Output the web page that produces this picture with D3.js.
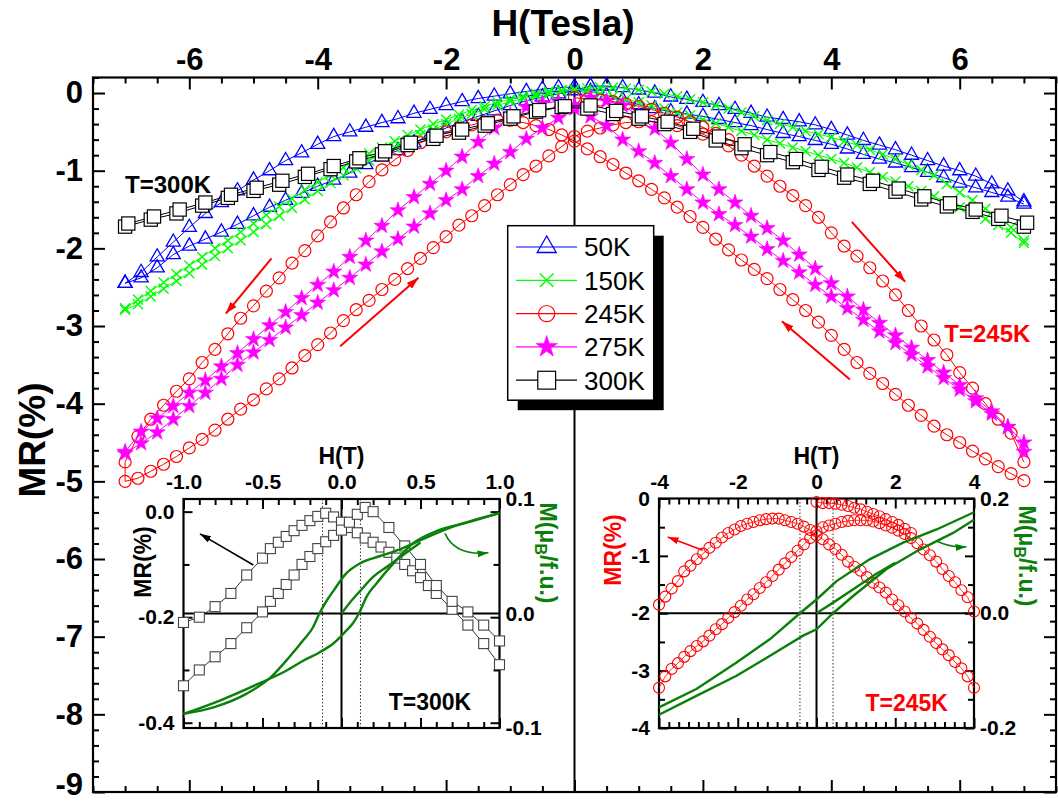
<!DOCTYPE html>
<html><head><meta charset="utf-8">
<script src="https://cdn.jsdelivr.net/npm/d3@7"></script>
<style>body{margin:0;background:#fff} svg text{font-family:"Liberation Sans",Arial,sans-serif}</style>
</head><body><svg id="c" width="1058" height="803"></svg>
<script>
// ---------- DATA (main panel, MR in % vs H in Tesla) ----------
const H25 = [-7,-6.75,-6.5,-6.25,-6,-5.75,-5.5,-5.25,-5,-4.75,-4.5,-4.25,-4,-3.75,-3.5,-3.25,-3,-2.75,-2.5,-2.25,-2,-1.75,-1.5,-1.25,-1,-0.75,-0.5,-0.25,0,0.25,0.5,0.75,1,1.25,1.5,1.75,2,2.25,2.5,2.75,3,3.25,3.5,3.75,4,4.25,4.5,4.75,5,5.25,5.5,5.75,6,6.25,6.5,6.75,7];
const H20 = [-7,-6.8,-6.6,-6.4,-6.2,-6,-5.8,-5.6,-5.4,-5.2,-5,-4.8,-4.6,-4.4,-4.2,-4,-3.8,-3.6,-3.4,-3.2,-3,-2.8,-2.6,-2.4,-2.2,-2,-1.8,-1.6,-1.4,-1.2,-1,-0.8,-0.6,-0.4,-0.2,0,0.2,0.4,0.6,0.8,1,1.2,1.4,1.6,1.8,2,2.2,2.4,2.6,2.8,3,3.2,3.4,3.6,3.8,4,4.2,4.4,4.6,4.8,5,5.2,5.4,5.6,5.8,6,6.2,6.4,6.6,6.8,7];
const H40 = [-7,-6.6,-6.2,-5.8,-5.4,-5,-4.6,-4.2,-3.8,-3.4,-3,-2.6,-2.2,-1.8,-1.4,-1,-0.6,-0.2,0.2,0.6,1,1.4,1.8,2.2,2.6,3,3.4,3.8,4.2,4.6,5,5.4,5.8,6.2,6.6,7];
const H40b = [-6.95,-6.55,-6.15,-5.75,-5.35,-4.95,-4.55,-4.15,-3.75,-3.35,-2.95,-2.55,-2.15,-1.75,-1.35,-0.95,-0.55,-0.15,0.25,0.65,1.05,1.45,1.85,2.25,2.65,3.05,3.45,3.85,4.25,4.65,5.05,5.45,5.85,6.25,6.65,7.05];
const Hvirgin245 = [0,0.2,0.4,0.6,0.8,1,1.2,1.4,1.6,1.8,2,2.2,2.4];

// 50K (on H25) - field sweeping down / up
const MR50_down = [-2.45,-2.31,-2.11,-1.92,-1.73,-1.55,-1.41,-1.26,-1.12,-1.0,-0.87,-0.77,-0.66,-0.56,-0.5,-0.44,-0.38,-0.33,-0.26,-0.21,-0.16,-0.11,-0.07,-0.04,-0.01,0.02,0.05,0.07,0.08,
  0.02,-0.03,-0.09,-0.15,-0.2,-0.24,-0.27,-0.3,-0.34,-0.38,-0.42,-0.47,-0.52,-0.56,-0.61,-0.66,-0.72,-0.79,-0.85,-0.9,-0.96,-1.02,-1.09,-1.16,-1.22,-1.28,-1.34,-1.43];
const MR50_up = [-2.45,-2.38,-2.25,-2.08,-1.97,-1.88,-1.79,-1.69,-1.58,-1.47,-1.38,-1.29,-1.2,-1.12,-1.03,-0.92,-0.82,-0.74,-0.64,-0.54,-0.45,-0.37,-0.3,-0.23,-0.16,-0.1,-0.05,-0.01,0.03,
  0.09,0.09,0.07,0.04,0.0,-0.05,-0.08,-0.12,-0.16,-0.21,-0.26,-0.31,-0.34,-0.37,-0.41,-0.47,-0.54,-0.61,-0.67,-0.73,-0.8,-0.87,-0.94,-1.0,-1.07,-1.17,-1.26,-1.4];
// 150K (on H20)
const MR150_down = [-2.77,-2.66,-2.55,-2.44,-2.33,-2.22,-2.11,-2.0,-1.9,-1.79,-1.68,-1.57,-1.46,-1.36,-1.25,-1.15,-1.05,-0.96,-0.87,-0.78,-0.7,-0.62,-0.54,-0.47,-0.4,-0.34,-0.28,-0.22,-0.17,-0.12,-0.08,-0.04,-0.01,0.02,0.04,0.05,
  0.02,-0.01,-0.04,-0.08,-0.12,-0.16,-0.2,-0.25,-0.29,-0.34,-0.39,-0.44,-0.49,-0.54,-0.6,-0.65,-0.7,-0.75,-0.8,-0.85,-0.9,-0.96,-1.02,-1.08,-1.14,-1.2,-1.26,-1.33,-1.4,-1.47,-1.54,-1.62,-1.7,-1.8,-1.93];
const MR150_up = [-2.79,-2.72,-2.62,-2.52,-2.42,-2.32,-2.21,-2.1,-2.0,-1.9,-1.79,-1.69,-1.58,-1.48,-1.37,-1.26,-1.16,-1.06,-0.97,-0.87,-0.78,-0.7,-0.62,-0.54,-0.47,-0.4,-0.33,-0.27,-0.21,-0.16,-0.11,-0.07,-0.04,-0.01,0.02,0.04,
  0.06,0.07,0.07,0.06,0.04,0.02,-0.01,-0.04,-0.08,-0.12,-0.16,-0.2,-0.25,-0.3,-0.35,-0.4,-0.44,-0.49,-0.53,-0.57,-0.62,-0.67,-0.73,-0.79,-0.85,-0.92,-0.99,-1.06,-1.17,-1.28,-1.38,-1.49,-1.6,-1.73,-1.9];
// 245K (on H20)
const MR245_down = [-4.75,-4.42,-4.2,-4.02,-3.84,-3.68,-3.47,-3.3,-3.1,-2.9,-2.74,-2.55,-2.38,-2.19,-2.03,-1.84,-1.66,-1.48,-1.31,-1.14,-0.99,-0.86,-0.74,-0.64,-0.56,-0.5,-0.45,-0.41,-0.37,-0.35,-0.35,-0.38,-0.42,-0.47,-0.54,-0.62,
  -0.72,-0.82,-0.92,-1.03,-1.13,-1.24,-1.35,-1.47,-1.59,-1.73,-1.88,-2.02,-2.15,-2.27,-2.39,-2.53,-2.66,-2.8,-2.95,-3.12,-3.3,-3.47,-3.61,-3.74,-3.88,-4.02,-4.15,-4.29,-4.4,-4.5,-4.61,-4.71,-4.81,-4.9,-4.99];
const MR245_up = [-5.0,-4.96,-4.87,-4.78,-4.68,-4.57,-4.46,-4.34,-4.2,-4.07,-3.95,-3.81,-3.68,-3.54,-3.38,-3.24,-3.09,-2.93,-2.79,-2.67,-2.53,-2.4,-2.26,-2.13,-1.99,-1.85,-1.7,-1.58,-1.45,-1.31,-1.18,-1.05,-0.94,-0.81,-0.69,-0.56,
  -0.49,-0.45,-0.41,-0.38,-0.37,-0.37,-0.38,-0.42,-0.47,-0.53,-0.6,-0.68,-0.8,-0.94,-1.07,-1.2,-1.32,-1.45,-1.6,-1.8,-1.97,-2.1,-2.25,-2.42,-2.6,-2.8,-3.0,-3.18,-3.37,-3.6,-3.8,-4.0,-4.2,-4.38,-4.75];
const MR245_virgin = [-0.06,-0.08,-0.09,-0.11,-0.14,-0.17,-0.21,-0.26,-0.31,-0.37,-0.44,-0.52,-0.6];
// 275K (on H25)
const MR275_down = [-4.62,-4.36,-4.19,-4.03,-3.86,-3.7,-3.52,-3.35,-3.17,-2.99,-2.82,-2.64,-2.47,-2.3,-2.11,-1.9,-1.71,-1.51,-1.34,-1.17,-1.0,-0.82,-0.63,-0.45,-0.28,-0.18,-0.13,-0.11,-0.16,
  -0.3,-0.42,-0.6,-0.75,-0.9,-1.07,-1.24,-1.41,-1.56,-1.7,-1.85,-2.01,-2.16,-2.31,-2.47,-2.62,-2.77,-2.92,-3.07,-3.22,-3.37,-3.52,-3.67,-3.82,-3.97,-4.13,-4.3,-4.62];
const MR275_up = [-4.64,-4.51,-4.37,-4.2,-4.03,-3.86,-3.68,-3.5,-3.34,-3.18,-3.02,-2.86,-2.7,-2.54,-2.38,-2.21,-2.04,-1.88,-1.72,-1.55,-1.38,-1.24,-1.07,-0.91,-0.76,-0.59,-0.45,-0.32,-0.2,
  -0.06,-0.1,-0.16,-0.29,-0.46,-0.64,-0.85,-1.05,-1.24,-1.41,-1.58,-1.74,-1.9,-2.08,-2.26,-2.45,-2.62,-2.79,-2.96,-3.12,-3.28,-3.44,-3.6,-3.76,-3.93,-4.1,-4.3,-4.5];
// 300K (down on H40, up on H40b)
const MR300_down = [-1.72,-1.63,-1.55,-1.45,-1.35,-1.26,-1.18,-1.08,-0.98,-0.88,-0.79,-0.67,-0.59,-0.51,-0.42,-0.33,-0.24,-0.18,-0.2,-0.27,-0.33,-0.4,-0.5,-0.61,-0.71,-0.8,-0.89,-0.99,-1.09,-1.17,-1.27,-1.37,-1.46,-1.53,-1.62,-1.72];
const MR300_up = [-1.68,-1.59,-1.5,-1.41,-1.31,-1.22,-1.13,-1.04,-0.94,-0.84,-0.75,-0.64,-0.55,-0.47,-0.39,-0.3,-0.22,-0.17,-0.16,-0.23,-0.3,-0.37,-0.46,-0.56,-0.66,-0.76,-0.85,-0.95,-1.05,-1.13,-1.23,-1.33,-1.42,-1.5,-1.58,-1.67];

const legendLabels = ["50K","150K","245K","275K","300K"];
const xTickLabels = [-6,-4,-2,0,2,4,6];
const yTickLabels = [0,-1,-2,-3,-4,-5,-6,-7,-8,-9];

// ---------- DATA (inset 300K) ----------
const in300_H_A = [-1.0,-0.9,-0.8,-0.7,-0.6,-0.5,-0.45,-0.4,-0.35,-0.3,-0.25,-0.2,-0.15,-0.1,-0.05,0,0.05,0.1,0.15,0.2,0.25,0.3,0.35,0.4,0.45,0.5,0.55,0.6,0.7,0.8,0.9,1.0];
const in300_MR_A = [-0.21,-0.2,-0.18,-0.155,-0.12,-0.088,-0.07,-0.058,-0.047,-0.036,-0.026,-0.017,-0.009,-0.003,-0.01,-0.02,-0.03,-0.04,-0.05,-0.058,-0.067,-0.077,-0.088,-0.1,-0.112,-0.125,-0.14,-0.155,-0.185,-0.215,-0.25,-0.29];
const in300_H_B = [-1.0,-0.9,-0.8,-0.7,-0.6,-0.5,-0.45,-0.4,-0.35,-0.3,-0.25,-0.2,-0.15,-0.1,-0.05,0,0.05,0.1,0.15,0.2,0.3,0.4,0.5,0.6,0.7,0.8,0.9,1.0];
const in300_MR_B = [-0.33,-0.3,-0.275,-0.25,-0.22,-0.19,-0.17,-0.155,-0.138,-0.12,-0.1,-0.085,-0.07,-0.057,-0.045,-0.035,-0.02,-0.005,0.008,0.0,-0.03,-0.065,-0.1,-0.14,-0.17,-0.19,-0.215,-0.245];
const m300_H_down = [-1.0,-0.81,-0.6,-0.45,-0.33,-0.24,-0.18,-0.14,-0.09,-0.05,0.03,0.12,0.24,0.37,0.5,0.71,1.0];
const m300_M_down = [-0.0877,-0.082,-0.07,-0.056,-0.038,-0.023,-0.012,0,0.012,0.02,0.035,0.044,0.05,0.056,0.064,0.076,0.0877];
const m300_H_up = [-1.0,-0.77,-0.52,-0.35,-0.24,-0.14,-0.05,0.03,0.07,0.11,0.16,0.22,0.33,0.45,0.62,0.81,1.0];
const m300_M_up = [-0.0877,-0.076,-0.061,-0.05,-0.041,-0.034,-0.026,-0.015,-0.009,0,0.015,0.026,0.044,0.061,0.073,0.08,0.0877];
const m300_H_virgin = [0,0.05,0.12,0.2,0.29,0.39,0.5];
const m300_M_virgin = [0,0.009,0.02,0.032,0.041,0.051,0.062];

// ---------- DATA (inset 245K) ----------
const in245_H = [-4,-3.84,-3.68,-3.52,-3.36,-3.2,-3.04,-2.88,-2.72,-2.56,-2.4,-2.24,-2.08,-1.92,-1.76,-1.6,-1.44,-1.28,-1.12,-0.96,-0.8,-0.64,-0.48,-0.32,-0.16,0,0.16,0.32,0.48,0.64,0.8,0.96,1.12,1.28,1.44,1.6,1.76,1.92,2.08,2.24,2.4,2.56,2.72,2.88,3.04,3.2,3.36,3.52,3.68,3.84,4];
const in245_MR_down = [-1.85,-1.71,-1.57,-1.44,-1.27,-1.17,-1.06,-0.96,-0.86,-0.77,-0.68,-0.6,-0.54,-0.48,-0.44,-0.41,-0.38,-0.36,-0.35,-0.35,-0.38,-0.41,-0.44,-0.49,-0.55,-0.64,-0.71,-0.8,-0.88,-0.98,-1.1,-1.19,-1.26,-1.37,-1.47,-1.55,-1.64,-1.76,-1.86,-1.97,-2.08,-2.18,-2.29,-2.41,-2.52,-2.63,-2.73,-2.85,-2.96,-3.1,-3.3];
const in245_MR_up = [-3.3,-3.1,-2.97,-2.87,-2.76,-2.66,-2.57,-2.49,-2.39,-2.28,-2.19,-2.08,-1.98,-1.87,-1.76,-1.67,-1.56,-1.46,-1.35,-1.24,-1.13,-1.02,-0.91,-0.8,-0.69,-0.57,-0.5,-0.47,-0.44,-0.41,-0.39,-0.38,-0.38,-0.38,-0.4,-0.43,-0.47,-0.51,-0.56,-0.62,-0.69,-0.78,-0.89,-0.99,-1.1,-1.23,-1.35,-1.46,-1.6,-1.72,-1.97];
const in245_H_virgin = [0,0.16,0.32,0.48,0.64,0.8,0.96,1.12,1.28,1.44,1.6,1.76,1.92,2.08,2.24,2.4];
const in245_MR_virgin = [-0.06,-0.08,-0.08,-0.09,-0.11,-0.13,-0.16,-0.19,-0.23,-0.27,-0.31,-0.36,-0.41,-0.46,-0.53,-0.6];
const m245_H_down = [-4,-3.05,-2.03,-1.18,-0.42,0,0.51,1.35,2.2,3.05,4];
const m245_M_down = [-0.164,-0.132,-0.086,-0.045,0,0.024,0.056,0.094,0.123,0.146,0.176];
const m245_H_up = [-4,-3.05,-2.03,-1.18,-0.34,0,0.42,0.93,1.78,2.62,3.47,4];
const m245_M_up = [-0.177,-0.144,-0.109,-0.074,-0.039,-0.028,0,0.03,0.077,0.111,0.14,0.163];
const m245_H_virgin = [0,0.5,1.0,1.5,2.0];
const m245_M_virgin = [0,0.022,0.045,0.068,0.088];

// ---------- CHART ----------
const svg = d3.select("#c");
const FONT = '"Liberation Sans",Arial,sans-serif';
const L = 93, R = 1056, T = 77.5, B = 792;
const X = d3.scaleLinear().domain([-7.5, 7.5]).range([L, R]);
const Y = d3.scaleLinear().domain([-9, 0.2]).range([B, T]);

const defs = svg.append("defs");
function arrowMarker(id, color, len, wid) {
  defs.append("marker").attr("id", id).attr("markerUnits", "userSpaceOnUse")
    .attr("viewBox", `0 0 ${len} ${wid}`).attr("refX", len).attr("refY", wid / 2)
    .attr("markerWidth", len).attr("markerHeight", wid).attr("orient", "auto")
    .append("path").attr("d", `M0,0L${len},${wid / 2}L0,${wid}Z`).attr("fill", color);
}
arrowMarker("arR", "#ff0000", 12, 8);
arrowMarker("arK", "#000", 11, 7);
arrowMarker("arG", "#008000", 11, 7);
arrowMarker("arR2", "#ff0000", 11, 7);

function addAxis(g, orient, scale, pos, vals, size, fmt, pad, fs, color) {
  const gen = orient === "top" ? d3.axisTop(scale) : orient === "bottom" ? d3.axisBottom(scale) :
    orient === "left" ? d3.axisLeft(scale) : d3.axisRight(scale);
  gen.tickValues(vals).tickSizeInner(-size).tickSizeOuter(0).tickPadding(pad || 3)
    .tickFormat(fmt || (() => ""));
  const tr = (orient === "top" || orient === "bottom") ? `translate(0,${pos})` : `translate(${pos},0)`;
  const a = g.append("g").attr("transform", tr).call(gen);
  a.select(".domain").remove();
  a.attr("font-family", FONT);
  a.selectAll("line").attr("stroke", "#000").attr("stroke-width", 2);
  a.selectAll("text").attr("font-size", fs || 10).attr("font-weight", "bold").attr("fill", color || "#000");
  return a;
}
const rng = (a, b, s) => d3.range(a, b + s / 2, s).map(v => +v.toFixed(4));

// main axes
const gA = svg.append("g");
const xMajor = rng(-6, 6, 2), xMinor = rng(-7.5, 7.5, 0.5).filter(v => !xMajor.includes(v));
const yMajor = rng(-9, 0, 1), yMinor = rng(-9, 0.2, 0.2).filter(v => !yMajor.some(m => Math.abs(m - v) < 1e-6));
addAxis(gA, "top", X, T, xTickLabels, 12, d => String(d), 8, 31);
addAxis(gA, "top", X, T, xMinor, 6);
addAxis(gA, "bottom", X, B, xMajor, 12);
addAxis(gA, "bottom", X, B, xMinor, 6);
addAxis(gA, "left", Y, L, yTickLabels, 12, d => String(d), 10, 31);
addAxis(gA, "left", Y, L, yMinor, 6);
addAxis(gA, "right", Y, R, yMajor, 12);
addAxis(gA, "right", Y, R, yMinor, 6);
// keep the lowest label inside the picture
gA.selectAll("text").filter(function () { return this.textContent === "-9"; }).attr("dy", "0.08em");
svg.append("rect").attr("x", L).attr("y", T).attr("width", R - L).attr("height", B - T)
  .attr("fill", "none").attr("stroke", "#000").attr("stroke-width", 2.2);
svg.append("line").attr("x1", X(0)).attr("x2", X(0)).attr("y1", T).attr("y2", B)
  .attr("stroke", "#000").attr("stroke-width", 2);

svg.append("text").attr("x", 563).attr("y", 36).attr("text-anchor", "middle")
  .attr("font-size", 37).attr("font-weight", "bold").attr("font-family", FONT).text("H(Tesla)");
svg.append("text").attr("transform", "translate(45,440) rotate(-90)").attr("text-anchor", "middle")
  .attr("font-size", 37).attr("font-weight", "bold").attr("font-family", FONT).text("MR(%)");

// symbols
function drawMarker(g, kind, x, y, color, big) {
  const k = big ? 1.35 : 1;
  if (kind === "tri") {
    g.append("path").attr("transform", `translate(${x},${y})`)
      .attr("d", d3.symbol(d3.symbolTriangle, 86 * k * k)()).attr("fill", "none").attr("stroke", color).attr("stroke-width", 1.3);
  } else if (kind === "cross") {
    const s = 5 * k;
    g.append("path").attr("transform", `translate(${x},${y})`)
      .attr("d", `M${-s},${-s}L${s},${s}M${-s},${s}L${s},${-s}`).attr("stroke", color).attr("stroke-width", 1.4).attr("fill", "none");
  } else if (kind === "circ") {
    g.append("circle").attr("cx", x).attr("cy", y).attr("r", 6 * k).attr("fill", "none").attr("stroke", color).attr("stroke-width", 1.2);
  } else if (kind === "star") {
    g.append("path").attr("transform", `translate(${x},${y})`)
      .attr("d", d3.symbol(d3.symbolStar, 80 * k * k)()).attr("fill", color).attr("stroke", color).attr("stroke-width", 0.6);
  } else if (kind === "sq") {
    const s = 6.6 * k;
    g.append("rect").attr("x", x - s).attr("y", y - s).attr("width", 2 * s).attr("height", 2 * s)
      .attr("fill", "#fff").attr("stroke", color).attr("stroke-width", 1.2);
  }
}
const line = d3.line().x(d => X(d[0])).y(d => Y(d[1]));
function series(Hd, MRd, Hu, MRu, color, kind) {
  const g = svg.append("g");
  const down = Hd.map((h, i) => [h, MRd[i]]).reverse();
  const up = Hu.map((h, i) => [h, MRu[i]]);
  const all = down.concat(up);
  g.append("path").attr("d", line(all)).attr("fill", "none").attr("stroke", color).attr("stroke-width", 1);
  all.forEach(p => drawMarker(g, kind, X(p[0]), Y(p[1]), color));
  return g;
}
series(H25, MR50_down, H25, MR50_up, "#0000ff", "tri");
series(H20, MR150_down, H20, MR150_up, "#00ff00", "cross");
{
  const g = svg.append("g");
  const v = Hvirgin245.map((h, i) => [h, MR245_virgin[i]]);
  g.append("path").attr("d", line(v)).attr("fill", "none").attr("stroke", "#ff0000").attr("stroke-width", 1);
  v.forEach(p => drawMarker(g, "circ", X(p[0]), Y(p[1]), "#ff0000"));
}
series(H20, MR245_down, H20, MR245_up, "#ff0000", "circ");
series(H25, MR275_down, H25, MR275_up, "#ff00ff", "star");
series(H40, MR300_down, H40b, MR300_up, "#000000", "sq");

// annotations main
const mainArrows = [[-4.72, -2.13, -5.43, -2.84], [-3.65, -3.26, -2.43, -2.38], [4.32, -1.66, 5.15, -2.43], [4.29, -3.69, 3.23, -2.94]];
mainArrows.forEach(a => svg.append("line").attr("x1", X(a[0])).attr("y1", Y(a[1])).attr("x2", X(a[2])).attr("y2", Y(a[3]))
  .attr("stroke", "#ff0000").attr("stroke-width", 2).attr("marker-end", "url(#arR)"));
svg.append("text").attr("x", X(-6.33)).attr("y", Y(-1.17)).attr("dy", "0.36em").attr("text-anchor", "middle")
  .attr("font-size", 24).attr("font-weight", "bold").attr("font-family", FONT).text("T=300K");
svg.append("text").attr("x", X(6.43)).attr("y", Y(-3.09)).attr("dy", "0.36em").attr("text-anchor", "middle")
  .attr("font-size", 24).attr("font-weight", "bold").attr("fill", "#ff0000").attr("font-family", FONT).text("T=245K");

// legend
{
  const lx = 507.7, ly = 225.7, lw = 146, lh = 174.5;
  const g = svg.append("g");
  g.append("rect").attr("x", lx + 10).attr("y", ly + 10).attr("width", lw).attr("height", lh).attr("fill", "#000");
  g.append("rect").attr("x", lx).attr("y", ly).attr("width", lw).attr("height", lh).attr("fill", "#fff").attr("stroke", "#000").attr("stroke-width", 1.5);
  const cols = ["#0000ff", "#00ff00", "#ff0000", "#ff00ff", "#000000"];
  const kinds = ["tri", "cross", "circ", "star", "sq"];
  legendLabels.forEach((lab, i) => {
    const y = 247 + i * 33.3;
    g.append("line").attr("x1", 516).attr("x2", 577).attr("y1", y).attr("y2", y).attr("stroke", cols[i]).attr("stroke-width", 1.2);
    drawMarker(g, kinds[i], 546.7, y, cols[i], true);
    g.append("text").attr("x", 584).attr("y", y).attr("dy", "0.36em").attr("font-size", 26).attr("font-family", FONT).text(lab);
  });
}

// ---------- INSETS ----------
function inset(cfg) {
  const { x0, x1, y0, y1, Hs, MRs, Ms } = cfg;
  const g = svg.append("g");
  g.append("rect").attr("x", x0).attr("y", y0).attr("width", x1 - x0).attr("height", y1 - y0).attr("fill", "#fff");
  cfg.dots.forEach(h => g.append("line").attr("x1", Hs(h)).attr("x2", Hs(h)).attr("y1", y0).attr("y2", y1)
    .attr("stroke", "#000").attr("stroke-width", 0.8).attr("stroke-dasharray", "1.5,2"));
  g.append("line").attr("x1", Hs(0)).attr("x2", Hs(0)).attr("y1", y0).attr("y2", y1).attr("stroke", "#000").attr("stroke-width", 2);
  g.append("line").attr("x1", x0).attr("x2", x1).attr("y1", Ms(0)).attr("y2", Ms(0)).attr("stroke", "#000").attr("stroke-width", 2.2);
  addAxis(g, "top", Hs, y0, cfg.hLab, 10, cfg.hFmt, 10, 21);
  addAxis(g, "top", Hs, y0, cfg.hMin, 6);
  addAxis(g, "bottom", Hs, y1, cfg.hLab, 10);
  addAxis(g, "bottom", Hs, y1, cfg.hMin, 6);
  addAxis(g, "left", MRs, x0, cfg.mrLab, 9, cfg.mrFmt, 9, 21);
  addAxis(g, "left", MRs, x0, cfg.mrMin, 6);
  addAxis(g, "right", MRs, x1, cfg.mrLab, 9);
  addAxis(g, "right", MRs, x1, cfg.mrMin, 6);
  addAxis(g, "right", Ms, x1, cfg.mLab, 0, cfg.mFmt, 6, 21);
  g.append("rect").attr("x", x0).attr("y", y0).attr("width", x1 - x0).attr("height", y1 - y0)
    .attr("fill", "none").attr("stroke", "#000").attr("stroke-width", 2.2);
  return g;
}

// inset 300K
const X1 = d3.scaleLinear().domain([-1, 1]).range([183.5, 499.5]);
const Y1 = d3.scaleLinear().domain([-0.41, 0.024]).range([728, 499]);
const M1 = d3.scaleLinear().domain([-0.1, 0.1]).range([728, 499]);
const g1 = inset({
  x0: 183.5, x1: 499.5, y0: 499, y1: 728, Hs: X1, MRs: Y1, Ms: M1, dots: [-0.12, 0.12],
  hLab: [-1, -0.5, 0, 0.5, 1], hMin: rng(-1, 1, 0.1).filter(v => Math.abs(v * 2 - Math.round(v * 2)) > 1e-6), hFmt: d => d.toFixed(1),
  mrLab: [0, -0.2, -0.4], mrMin: [-0.1, -0.3], mrFmt: d => d.toFixed(1),
  mLab: [0.1, 0, -0.1], mFmt: d => d.toFixed(1)
});
{
  const ln = d3.line().x(d => X1(d[0])).y(d => Y1(d[1]));
  const A = in300_H_A.map((h, i) => [h, in300_MR_A[i]]);
  const Bv = in300_H_B.map((h, i) => [h, in300_MR_B[i]]);
  [A, Bv].forEach(arr => {
    g1.append("path").attr("d", ln(arr)).attr("fill", "none").attr("stroke", "#000").attr("stroke-width", 0.8);
  });
  [A, Bv].forEach(arr => arr.forEach(p => {
    g1.append("rect").attr("x", X1(p[0]) - 5).attr("y", Y1(p[1]) - 5).attr("width", 10).attr("height", 10)
      .attr("fill", "#fff").attr("stroke", "#444").attr("stroke-width", 1.1);
  }));
  const lm = d3.line().x(d => X1(d[0])).y(d => M1(d[1])).curve(d3.curveMonotoneX);
  [[m300_H_down, m300_M_down], [m300_H_up, m300_M_up], [m300_H_virgin, m300_M_virgin]].forEach(([h, m]) => {
    g1.append("path").attr("d", lm(h.map((v, i) => [v, m[i]]))).attr("fill", "none").attr("stroke", "#0a800a").attr("stroke-width", 2.4);
  });
  g1.append("line").attr("x1", X1(-0.558)).attr("y1", Y1(-0.101)).attr("x2", X1(-0.896)).attr("y2", Y1(-0.042))
    .attr("stroke", "#000").attr("stroke-width", 1.6).attr("marker-end", "url(#arK)");
  g1.append("path").attr("d", `M${X1(0.655)},${M1(0.07)} Q${X1(0.72)},${M1(0.05)} ${X1(0.93)},${M1(0.053)}`)
    .attr("fill", "none").attr("stroke", "#0a800a").attr("stroke-width", 1.6).attr("marker-end", "url(#arG)");
  g1.append("text").attr("x", X1(0.56)).attr("y", Y1(-0.361)).attr("dy", "0.36em").attr("text-anchor", "middle")
    .attr("font-size", 23).attr("font-weight", "bold").attr("font-family", FONT).text("T=300K");
  g1.append("text").attr("x", X1(0)).attr("y", 464).attr("text-anchor", "middle")
    .attr("font-size", 23).attr("font-weight", "bold").attr("font-family", FONT).text("H(T)");
  g1.append("text").attr("transform", "translate(151,562) rotate(-90)").attr("text-anchor", "middle")
    .attr("font-size", 23).attr("font-weight", "bold").attr("font-family", FONT).text("MR(%)");
  const t = g1.append("text").attr("transform", "translate(540,553) rotate(90)").attr("text-anchor", "middle")
    .attr("font-size", 23).attr("font-weight", "bold").attr("font-family", FONT).attr("fill", "#0a800a");
  t.append("tspan").text("M(μ");
  t.append("tspan").attr("font-size", 16).attr("dy", 5).text("B");
  t.append("tspan").attr("dy", -5).text("/f.u.)");
}

// inset 245K
const X2 = d3.scaleLinear().domain([-4, 4]).range([659, 974]);
const Y2 = d3.scaleLinear().domain([-4, 0]).range([728, 498.5]);
const M2 = d3.scaleLinear().domain([-0.2, 0.2]).range([728, 498.5]);
const g2 = inset({
  x0: 659, x1: 974, y0: 498.5, y1: 728, Hs: X2, MRs: Y2, Ms: M2, dots: [-0.42, 0.42],
  hLab: [-4, -2, 0, 2, 4], hMin: rng(-4, 4, 0.25).filter(v => Math.abs(v / 2 - Math.round(v / 2)) > 1e-6), hFmt: d => String(d),
  mrLab: [0, -1, -2, -3, -4], mrMin: rng(-3.5, -0.5, 1), mrFmt: d => String(d),
  mLab: [0.2, 0, -0.2], mFmt: d => d.toFixed(1)
});
{
  const ln = d3.line().x(d => X2(d[0])).y(d => Y2(d[1]));
  const sets = [in245_H.map((h, i) => [h, in245_MR_down[i]]), in245_H.map((h, i) => [h, in245_MR_up[i]]),
    in245_H_virgin.map((h, i) => [h, in245_MR_virgin[i]])];
  sets.forEach(arr => g2.append("path").attr("d", ln(arr)).attr("fill", "none").attr("stroke", "#ff0000").attr("stroke-width", 0.8));
  sets.forEach(arr => arr.forEach(p => g2.append("circle").attr("cx", X2(p[0])).attr("cy", Y2(p[1])).attr("r", 5.5)
    .attr("fill", "none").attr("stroke", "#ff0000").attr("stroke-width", 1.1)));
  const lm = d3.line().x(d => X2(d[0])).y(d => M2(d[1]));
  [[m245_H_down, m245_M_down], [m245_H_up, m245_M_up], [m245_H_virgin, m245_M_virgin]].forEach(([h, m]) => {
    g2.append("path").attr("d", lm(h.map((v, i) => [v, m[i]]))).attr("fill", "none").attr("stroke", "#0a800a").attr("stroke-width", 2.4);
  });
  g2.append("line").attr("x1", X2(-2.89)).attr("y1", Y2(-0.9)).attr("x2", X2(-3.78)).attr("y2", Y2(-0.67))
    .attr("stroke", "#ff0000").attr("stroke-width", 1.6).attr("marker-end", "url(#arR2)");
  g2.append("path").attr("d", `M${X2(3.05)},${M2(0.126)} Q${X2(3.4)},${M2(0.114)} ${X2(3.81)},${M2(0.116)}`)
    .attr("fill", "none").attr("stroke", "#0a800a").attr("stroke-width", 1.6).attr("marker-end", "url(#arG)");
  g2.append("text").attr("x", X2(2.29)).attr("y", Y2(-3.56)).attr("dy", "0.36em").attr("text-anchor", "middle")
    .attr("font-size", 23).attr("font-weight", "bold").attr("fill", "#ff0000").attr("font-family", FONT).text("T=245K");
  g2.append("text").attr("x", X2(0)).attr("y", 464).attr("text-anchor", "middle")
    .attr("font-size", 23).attr("font-weight", "bold").attr("font-family", FONT).text("H(T)");
  g2.append("text").attr("transform", "translate(621,550) rotate(-90)").attr("text-anchor", "middle")
    .attr("font-size", 23).attr("font-weight", "bold").attr("fill", "#ff0000").attr("font-family", FONT).text("MR(%)");
  const t = g2.append("text").attr("transform", "translate(1019,556) rotate(90)").attr("text-anchor", "middle")
    .attr("font-size", 23).attr("font-weight", "bold").attr("font-family", FONT).attr("fill", "#0a800a");
  t.append("tspan").text("M(μ");
  t.append("tspan").attr("font-size", 16).attr("dy", 5).text("B");
  t.append("tspan").attr("dy", -5).text("/f.u.)");
}
</script></body></html>
